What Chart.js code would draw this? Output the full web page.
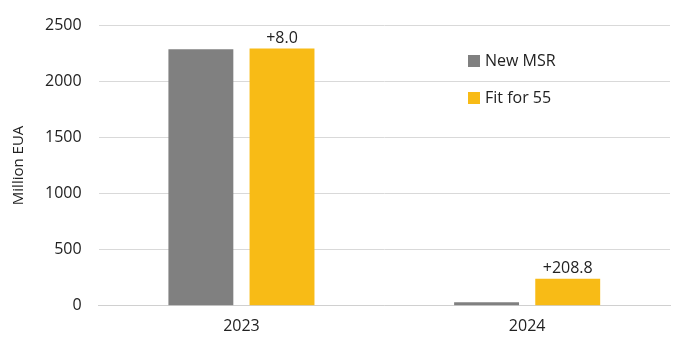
<!DOCTYPE html>
<html>
<head>
<meta charset="utf-8">
<script src="https://cdn.jsdelivr.net/npm/chart.js@4.4.0/dist/chart.umd.min.js"></script>
<style>
  html, body { margin: 0; padding: 0; background: #fff; }
  #wrap { width: 673px; height: 339px; }
</style>
</head>
<body>
<div id="wrap"><canvas id="chart"></canvas></div>
<script>
// data
const years = ["2023", "2024"];
const newMsr = [2283, 32];
const fitFor55 = [2291, 240.8];
const diffLabels = ["+8.0", "+208.8"];
const yTicks = [0, 500, 1000, 1500, 2000, 2500];

const grey = "#808080";
const yellow = "#f8bb16";
const font = "'Open Sans', 'DejaVu Sans', sans-serif";

// labels over the yellow bars
const diffPlugin = {
  id: "diffLabels",
  afterDatasetsDraw(chart) {
    const ctx = chart.ctx;
    const meta = chart.getDatasetMeta(1);
    ctx.save();
    ctx.font = "16px " + font;
    ctx.fillStyle = "#222";
    ctx.textAlign = "center";
    ctx.textBaseline = "bottom";
    meta.data.forEach((bar, i) => {
      ctx.fillText(diffLabels[i], bar.x, bar.y - 2);
    });
    ctx.restore();
  }
};

// legend inside the plot, right side
const legendPlugin = {
  id: "innerLegend",
  afterDraw(chart) {
    const ctx = chart.ctx;
    const x = 468, y0 = 61, gap = 37;
    ctx.save();
    ctx.font = "16px " + font;
    ctx.textBaseline = "middle";
    chart.data.datasets.forEach((ds, i) => {
      const y = y0 + i * gap;
      ctx.fillStyle = ds.backgroundColor;
      ctx.fillRect(x, y - 6, 12, 12);
      ctx.fillStyle = "#222";
      ctx.fillText(ds.label, x + 17, y);
    });
    ctx.restore();
  }
};

new Chart(document.getElementById("chart"), {
  type: "bar",
  data: {
    labels: years,
    datasets: [
      { label: "New MSR", data: newMsr, backgroundColor: grey },
      { label: "Fit for 55", data: fitFor55, backgroundColor: yellow }
    ]
  },
  options: {
    responsive: true,
    maintainAspectRatio: false,
    animation: false,
    layout: { padding: { top: 0, right: 3, left: 10, bottom: 0 } },
    datasets: {
      bar: { categoryPercentage: 0.568, barPercentage: 0.8 }
    },
    plugins: {
      legend: { display: false },
      tooltip: { enabled: false }
    },
    scales: {
      x: {
        grid: { display: false },
        border: { color: "#d0d0d0" },
        ticks: { color: "#222", font: { size: 16, family: font }, padding: 3 }
      },
      y: {
        min: 0,
        max: 2500,
        afterBuildTicks(axis) { axis.ticks = yTicks.map(v => ({ value: v })); },
        grid: { color: "#d9d9d9", drawTicks: false },
        border: { display: false },
        ticks: {
          color: "#222",
          font: { size: 16, family: font, lineHeight: 1 },
          padding: 17,
          callback: v => String(v)
        },
        title: {
          display: true,
          text: "Million EUA",
          color: "#222",
          font: { size: 15, family: font },
          padding: { top: 0, bottom: 0 }
        }
      }
    }
  },
  plugins: [diffPlugin, legendPlugin]
});
</script>
</body>
</html>
